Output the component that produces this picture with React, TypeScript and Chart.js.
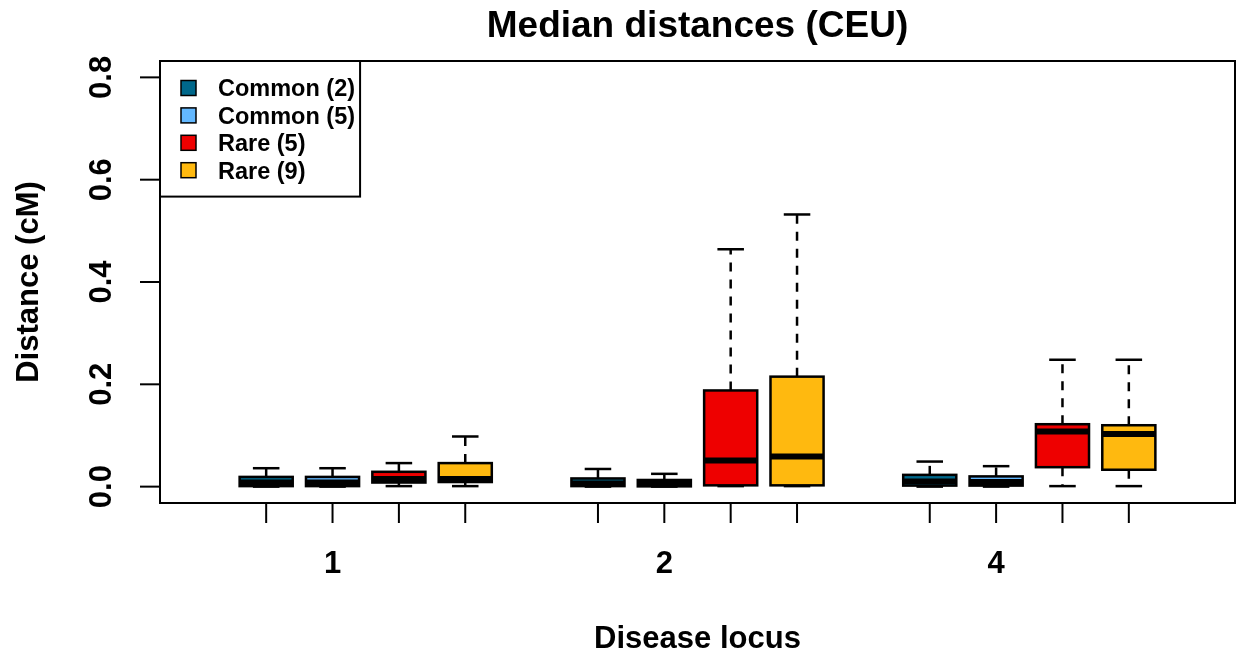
import React, { useEffect, useRef } from 'react';
import { Chart, registerables } from 'chart.js';

Chart.register(...registerables);

const chartTitle = 'Median distances (CEU)';
const xAxisTitle = 'Disease locus';
const yAxisTitle = 'Distance (cM)';
const loci = ['1', '2', '4'];
const seriesNames = ['Common (2)', 'Common (5)', 'Rare (5)', 'Rare (9)'];
const seriesColors = ['#00688B', '#63B8FF', '#EE0000', '#FFB90F'];

// one row per series, one value per locus (1, 2, 4)
const whiskerMax = [
  [0.036, 0.0345, 0.049],
  [0.036, 0.025, 0.04],
  [0.046, 0.464, 0.248],
  [0.098, 0.532, 0.248],
];
const upperQuartile = [
  [0.019, 0.016, 0.023],
  [0.019, 0.013, 0.02],
  [0.029, 0.188, 0.122],
  [0.046, 0.215, 0.12],
];
const medians = [
  [0.008, 0.006, 0.01],
  [0.008, 0.005, 0.009],
  [0.015, 0.051, 0.108],
  [0.015, 0.059, 0.103],
];
const lowerQuartile = [
  [0.001, 0.001, 0.002],
  [0.001, 0.0005, 0.002],
  [0.008, 0.0025, 0.038],
  [0.009, 0.0025, 0.033],
];
const whiskerMin = [
  [0, 0, 0],
  [0, 0, 0],
  [0.001, 0.001, 0.001],
  [0.001, 0.001, 0.001],
];

const yTicks = [0, 0.2, 0.4, 0.6, 0.8];
const yTickLabels = ['0.0', '0.2', '0.4', '0.6', '0.8'];

const FONT = '"Liberation Sans", Arial, Helvetica, sans-serif';

const boxPlugin = {
  id: 'rBoxplot',
  afterDraw(chart: any) {
    const { ctx, chartArea: a, scales } = chart;
    const xs = scales.x;
    const ys = scales.y;
    const px = (v: number) => xs.getPixelForValue(v);
    const py = (v: number) => ys.getPixelForValue(v);
    const line = (x1: number, y1: number, x2: number, y2: number) => {
      ctx.beginPath();
      ctx.moveTo(x1, y1);
      ctx.lineTo(x2, y2);
      ctx.stroke();
    };
    const nS = seriesNames.length;
    const posOf = (i: number, j: number) => i * (nS + 1) + j + 1;
    const boxHalf = px(0.4) - px(0);
    const capHalf = px(0.2) - px(0);

    ctx.save();
    ctx.lineCap = 'butt';
    ctx.strokeStyle = '#000';

    // boxes
    loci.forEach((_, i) => {
      seriesNames.forEach((_, j) => {
        const cx = px(posOf(i, j));
        const yMax = py(whiskerMax[j][i]);
        const yQ3 = py(upperQuartile[j][i]);
        const yMed = py(medians[j][i]);
        const yQ1 = py(lowerQuartile[j][i]);
        const yMin = py(whiskerMin[j][i]);
        ctx.lineWidth = 2.5;
        ctx.setLineDash([9, 8]);
        line(cx, yQ3, cx, yMax);
        line(cx, yQ1, cx, yMin);
        ctx.setLineDash([]);
        line(cx - capHalf, yMax, cx + capHalf, yMax);
        line(cx - capHalf, yMin, cx + capHalf, yMin);
        ctx.fillStyle = seriesColors[j];
        ctx.fillRect(cx - boxHalf, yQ3, 2 * boxHalf, yQ1 - yQ3);
        ctx.lineWidth = 2.5;
        ctx.strokeRect(cx - boxHalf, yQ3, 2 * boxHalf, yQ1 - yQ3);
        ctx.lineWidth = 6;
        line(cx - boxHalf, yMed, cx + boxHalf, yMed);
      });
    });

    // frame
    ctx.lineWidth = 2;
    ctx.strokeRect(a.left, a.top, a.right - a.left, a.bottom - a.top);

    // x axis ticks
    const tickLen = 20;
    const firstPos = posOf(0, 0);
    const lastPos = posOf(loci.length - 1, nS - 1);
    line(px(firstPos), a.bottom, px(lastPos), a.bottom);
    ctx.fillStyle = '#000';
    ctx.font = `bold 31px ${FONT}`;
    ctx.textAlign = 'center';
    ctx.textBaseline = 'alphabetic';
    loci.forEach((lab, i) => {
      seriesNames.forEach((_, j) => {
        const x = px(posOf(i, j));
        line(x, a.bottom, x, a.bottom + tickLen);
      });
      ctx.fillText(lab, px(posOf(i, 1)), a.bottom + 70);
    });

    // y axis ticks
    line(a.left, py(yTicks[0]), a.left, py(yTicks[yTicks.length - 1]));
    yTicks.forEach((t, k) => {
      const y = py(t);
      line(a.left - tickLen, y, a.left, y);
      ctx.save();
      ctx.translate(a.left - 49, y);
      ctx.rotate(-Math.PI / 2);
      ctx.fillText(yTickLabels[k], 0, 0);
      ctx.restore();
    });

    // axis titles
    ctx.fillText(xAxisTitle, (a.left + a.right) / 2, 648);
    ctx.save();
    ctx.translate(38, (a.top + a.bottom) / 2);
    ctx.rotate(-Math.PI / 2);
    ctx.fillText(yAxisTitle, 0, 0);
    ctx.restore();

    // main title
    ctx.font = `bold 37px ${FONT}`;
    ctx.fillText(chartTitle, (a.left + a.right) / 2, 37);

    // legend
    ctx.font = `bold 23.5px ${FONT}`;
    let maxW = 0;
    seriesNames.forEach((n) => {
      maxW = Math.max(maxW, ctx.measureText(n).width);
    });
    const lx = a.left;
    const ly = a.top;
    const textX = lx + 58;
    const lw = textX - lx + maxW + 5;
    const rowH = 27.4;
    const firstRow = ly + 27;
    const lh = rowH * seriesNames.length + 26;
    ctx.fillStyle = '#fff';
    ctx.fillRect(lx, ly, lw, lh);
    ctx.lineWidth = 2;
    ctx.strokeRect(lx, ly, lw, lh);
    ctx.textAlign = 'left';
    seriesNames.forEach((n, j) => {
      const cy = firstRow + j * rowH;
      ctx.fillStyle = seriesColors[j];
      ctx.fillRect(lx + 21, cy - 7.5, 15, 15);
      ctx.lineWidth = 1.5;
      ctx.strokeRect(lx + 21, cy - 7.5, 15, 15);
      ctx.fillStyle = '#000';
      ctx.fillText(n, textX, cy + 8.4);
    });
    ctx.restore();
  },
};

export default function App() {
  const ref = useRef<HTMLCanvasElement | null>(null);
  useEffect(() => {
    document.body.style.margin = '0';
    const canvas = ref.current;
    if (!canvas) return;
    const chart = new Chart(canvas, {
      type: 'scatter',
      data: { datasets: [] },
      options: {
        responsive: false,
        animation: false,
        devicePixelRatio: 1,
        layout: { padding: { left: 160, right: 3, top: 61, bottom: 152 } },
        plugins: {
          legend: { display: false },
          title: { display: false },
          tooltip: { enabled: false },
        },
        scales: {
          x: { type: 'linear', min: -0.6, max: 15.6, display: false },
          y: { type: 'linear', min: -0.032, max: 0.832, display: false },
        },
      },
      plugins: [boxPlugin],
    });
    return () => chart.destroy();
  }, []);
  return (
    <canvas
      ref={ref}
      width={1238}
      height={655}
      style={{ display: 'block', width: 1238, height: 655 }}
    />
  );
}
